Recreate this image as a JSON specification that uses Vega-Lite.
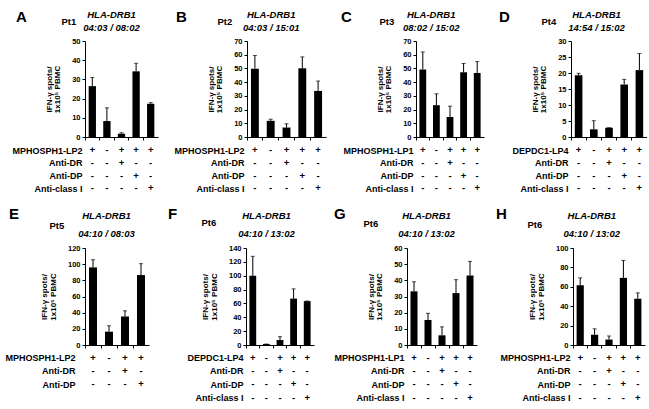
{
  "$schema": "https://vega.github.io/schema/vega-lite/v6.json",
  "background": "white",
  "padding": {"left": 4, "top": 9, "right": 0, "bottom": 0},
  "datasets": {
    "bars": [
      {"p":"A","c":1,"v":26.5,"u":31},{"p":"A","c":2,"v":8.3,"u":15.2},{"p":"A","c":3,"v":1.7,"u":2.2},{"p":"A","c":4,"v":34.2,"u":38.4},{"p":"A","c":5,"v":17.3,"u":17.9},
      {"p":"B","c":1,"v":49.8,"u":59.4},{"p":"B","c":2,"v":11.8,"u":13},{"p":"B","c":3,"v":6.9,"u":9.6},{"p":"B","c":4,"v":50.1,"u":58.4},{"p":"B","c":5,"v":33.6,"u":40.8},
      {"p":"C","c":1,"v":49.2,"u":62},{"p":"C","c":2,"v":23.2,"u":31.5},{"p":"C","c":3,"v":14.6,"u":22.5},{"p":"C","c":4,"v":47.2,"u":53.6},{"p":"C","c":5,"v":46.7,"u":55},
      {"p":"D","c":1,"v":19.3,"u":19.9},{"p":"D","c":2,"v":2.4,"u":5.1},{"p":"D","c":3,"v":2.9,"u":2.9},{"p":"D","c":4,"v":16.4,"u":18},{"p":"D","c":5,"v":20.9,"u":26.1},
      {"p":"E","c":1,"v":96,"u":105.5},{"p":"E","c":2,"v":16.5,"u":23.8},{"p":"E","c":3,"v":35.3,"u":42.3},{"p":"E","c":4,"v":86.5,"u":100.6},
      {"p":"F","c":1,"v":100,"u":128},{"p":"F","c":2,"v":1.4,"u":1.4},{"p":"F","c":3,"v":7.2,"u":12},{"p":"F","c":4,"v":67,"u":81},{"p":"F","c":5,"v":63.3,"u":63.5},
      {"p":"G","c":1,"v":33.2,"u":39.1},{"p":"G","c":2,"v":15.5,"u":19.6},{"p":"G","c":3,"v":6,"u":11.2},{"p":"G","c":4,"v":32.1,"u":40.4},{"p":"G","c":5,"v":43,"u":51.7},
      {"p":"H","c":1,"v":61.6,"u":69.2},{"p":"H","c":2,"v":10.6,"u":16.7},{"p":"H","c":3,"v":5.6,"u":9.3},{"p":"H","c":4,"v":69.2,"u":87.2},{"p":"H","c":5,"v":47.7,"u":53.7}
    ],
    "table": [
      {"p":"A","r":1,"lab":"MPHOSPH1-LP2","c":1,"s":"+"},{"p":"A","r":1,"lab":"MPHOSPH1-LP2","c":2,"s":"-"},{"p":"A","r":1,"lab":"MPHOSPH1-LP2","c":3,"s":"+"},{"p":"A","r":1,"lab":"MPHOSPH1-LP2","c":4,"s":"+"},{"p":"A","r":1,"lab":"MPHOSPH1-LP2","c":5,"s":"+"},
      {"p":"A","r":2,"lab":"Anti-DR","c":1,"s":"-"},{"p":"A","r":2,"lab":"Anti-DR","c":2,"s":"-"},{"p":"A","r":2,"lab":"Anti-DR","c":3,"s":"+"},{"p":"A","r":2,"lab":"Anti-DR","c":4,"s":"-"},{"p":"A","r":2,"lab":"Anti-DR","c":5,"s":"-"},
      {"p":"A","r":3,"lab":"Anti-DP","c":1,"s":"-"},{"p":"A","r":3,"lab":"Anti-DP","c":2,"s":"-"},{"p":"A","r":3,"lab":"Anti-DP","c":3,"s":"-"},{"p":"A","r":3,"lab":"Anti-DP","c":4,"s":"+"},{"p":"A","r":3,"lab":"Anti-DP","c":5,"s":"-"},
      {"p":"A","r":4,"lab":"Anti-class I","c":1,"s":"-"},{"p":"A","r":4,"lab":"Anti-class I","c":2,"s":"-"},{"p":"A","r":4,"lab":"Anti-class I","c":3,"s":"-"},{"p":"A","r":4,"lab":"Anti-class I","c":4,"s":"-"},{"p":"A","r":4,"lab":"Anti-class I","c":5,"s":"+"},
      {"p":"B","r":1,"lab":"MPHOSPH1-LP2","c":1,"s":"+"},{"p":"B","r":1,"lab":"MPHOSPH1-LP2","c":2,"s":"-"},{"p":"B","r":1,"lab":"MPHOSPH1-LP2","c":3,"s":"+"},{"p":"B","r":1,"lab":"MPHOSPH1-LP2","c":4,"s":"+"},{"p":"B","r":1,"lab":"MPHOSPH1-LP2","c":5,"s":"+"},
      {"p":"B","r":2,"lab":"Anti-DR","c":1,"s":"-"},{"p":"B","r":2,"lab":"Anti-DR","c":2,"s":"-"},{"p":"B","r":2,"lab":"Anti-DR","c":3,"s":"+"},{"p":"B","r":2,"lab":"Anti-DR","c":4,"s":"-"},{"p":"B","r":2,"lab":"Anti-DR","c":5,"s":"-"},
      {"p":"B","r":3,"lab":"Anti-DP","c":1,"s":"-"},{"p":"B","r":3,"lab":"Anti-DP","c":2,"s":"-"},{"p":"B","r":3,"lab":"Anti-DP","c":3,"s":"-"},{"p":"B","r":3,"lab":"Anti-DP","c":4,"s":"+"},{"p":"B","r":3,"lab":"Anti-DP","c":5,"s":"-"},
      {"p":"B","r":4,"lab":"Anti-class I","c":1,"s":"-"},{"p":"B","r":4,"lab":"Anti-class I","c":2,"s":"-"},{"p":"B","r":4,"lab":"Anti-class I","c":3,"s":"-"},{"p":"B","r":4,"lab":"Anti-class I","c":4,"s":"-"},{"p":"B","r":4,"lab":"Anti-class I","c":5,"s":"+"},
      {"p":"C","r":1,"lab":"MPHOSPH1-LP1","c":1,"s":"+"},{"p":"C","r":1,"lab":"MPHOSPH1-LP1","c":2,"s":"-"},{"p":"C","r":1,"lab":"MPHOSPH1-LP1","c":3,"s":"+"},{"p":"C","r":1,"lab":"MPHOSPH1-LP1","c":4,"s":"+"},{"p":"C","r":1,"lab":"MPHOSPH1-LP1","c":5,"s":"+"},
      {"p":"C","r":2,"lab":"Anti-DR","c":1,"s":"-"},{"p":"C","r":2,"lab":"Anti-DR","c":2,"s":"-"},{"p":"C","r":2,"lab":"Anti-DR","c":3,"s":"+"},{"p":"C","r":2,"lab":"Anti-DR","c":4,"s":"-"},{"p":"C","r":2,"lab":"Anti-DR","c":5,"s":"-"},
      {"p":"C","r":3,"lab":"Anti-DP","c":1,"s":"-"},{"p":"C","r":3,"lab":"Anti-DP","c":2,"s":"-"},{"p":"C","r":3,"lab":"Anti-DP","c":3,"s":"-"},{"p":"C","r":3,"lab":"Anti-DP","c":4,"s":"+"},{"p":"C","r":3,"lab":"Anti-DP","c":5,"s":"-"},
      {"p":"C","r":4,"lab":"Anti-class I","c":1,"s":"-"},{"p":"C","r":4,"lab":"Anti-class I","c":2,"s":"-"},{"p":"C","r":4,"lab":"Anti-class I","c":3,"s":"-"},{"p":"C","r":4,"lab":"Anti-class I","c":4,"s":"-"},{"p":"C","r":4,"lab":"Anti-class I","c":5,"s":"+"},
      {"p":"D","r":1,"lab":"DEPDC1-LP4","c":1,"s":"+"},{"p":"D","r":1,"lab":"DEPDC1-LP4","c":2,"s":"-"},{"p":"D","r":1,"lab":"DEPDC1-LP4","c":3,"s":"+"},{"p":"D","r":1,"lab":"DEPDC1-LP4","c":4,"s":"+"},{"p":"D","r":1,"lab":"DEPDC1-LP4","c":5,"s":"+"},
      {"p":"D","r":2,"lab":"Anti-DR","c":1,"s":"-"},{"p":"D","r":2,"lab":"Anti-DR","c":2,"s":"-"},{"p":"D","r":2,"lab":"Anti-DR","c":3,"s":"+"},{"p":"D","r":2,"lab":"Anti-DR","c":4,"s":"-"},{"p":"D","r":2,"lab":"Anti-DR","c":5,"s":"-"},
      {"p":"D","r":3,"lab":"Anti-DP","c":1,"s":"-"},{"p":"D","r":3,"lab":"Anti-DP","c":2,"s":"-"},{"p":"D","r":3,"lab":"Anti-DP","c":3,"s":"-"},{"p":"D","r":3,"lab":"Anti-DP","c":4,"s":"+"},{"p":"D","r":3,"lab":"Anti-DP","c":5,"s":"-"},
      {"p":"D","r":4,"lab":"Anti-class I","c":1,"s":"-"},{"p":"D","r":4,"lab":"Anti-class I","c":2,"s":"-"},{"p":"D","r":4,"lab":"Anti-class I","c":3,"s":"-"},{"p":"D","r":4,"lab":"Anti-class I","c":4,"s":"-"},{"p":"D","r":4,"lab":"Anti-class I","c":5,"s":"+"},
      {"p":"E","r":1,"lab":"MPHOSPH1-LP2","c":1,"s":"+"},{"p":"E","r":1,"lab":"MPHOSPH1-LP2","c":2,"s":"-"},{"p":"E","r":1,"lab":"MPHOSPH1-LP2","c":3,"s":"+"},{"p":"E","r":1,"lab":"MPHOSPH1-LP2","c":4,"s":"+"},
      {"p":"E","r":2,"lab":"Anti-DR","c":1,"s":"-"},{"p":"E","r":2,"lab":"Anti-DR","c":2,"s":"-"},{"p":"E","r":2,"lab":"Anti-DR","c":3,"s":"+"},{"p":"E","r":2,"lab":"Anti-DR","c":4,"s":"-"},
      {"p":"E","r":3,"lab":"Anti-DP","c":1,"s":"-"},{"p":"E","r":3,"lab":"Anti-DP","c":2,"s":"-"},{"p":"E","r":3,"lab":"Anti-DP","c":3,"s":"-"},{"p":"E","r":3,"lab":"Anti-DP","c":4,"s":"+"},
      {"p":"F","r":1,"lab":"DEPDC1-LP4","c":1,"s":"+"},{"p":"F","r":1,"lab":"DEPDC1-LP4","c":2,"s":"-"},{"p":"F","r":1,"lab":"DEPDC1-LP4","c":3,"s":"+"},{"p":"F","r":1,"lab":"DEPDC1-LP4","c":4,"s":"+"},{"p":"F","r":1,"lab":"DEPDC1-LP4","c":5,"s":"+"},
      {"p":"F","r":2,"lab":"Anti-DR","c":1,"s":"-"},{"p":"F","r":2,"lab":"Anti-DR","c":2,"s":"-"},{"p":"F","r":2,"lab":"Anti-DR","c":3,"s":"+"},{"p":"F","r":2,"lab":"Anti-DR","c":4,"s":"-"},{"p":"F","r":2,"lab":"Anti-DR","c":5,"s":"-"},
      {"p":"F","r":3,"lab":"Anti-DP","c":1,"s":"-"},{"p":"F","r":3,"lab":"Anti-DP","c":2,"s":"-"},{"p":"F","r":3,"lab":"Anti-DP","c":3,"s":"-"},{"p":"F","r":3,"lab":"Anti-DP","c":4,"s":"+"},{"p":"F","r":3,"lab":"Anti-DP","c":5,"s":"-"},
      {"p":"F","r":4,"lab":"Anti-class I","c":1,"s":"-"},{"p":"F","r":4,"lab":"Anti-class I","c":2,"s":"-"},{"p":"F","r":4,"lab":"Anti-class I","c":3,"s":"-"},{"p":"F","r":4,"lab":"Anti-class I","c":4,"s":"-"},{"p":"F","r":4,"lab":"Anti-class I","c":5,"s":"+"},
      {"p":"G","r":1,"lab":"MPHOSPH1-LP1","c":1,"s":"+"},{"p":"G","r":1,"lab":"MPHOSPH1-LP1","c":2,"s":"-"},{"p":"G","r":1,"lab":"MPHOSPH1-LP1","c":3,"s":"+"},{"p":"G","r":1,"lab":"MPHOSPH1-LP1","c":4,"s":"+"},{"p":"G","r":1,"lab":"MPHOSPH1-LP1","c":5,"s":"+"},
      {"p":"G","r":2,"lab":"Anti-DR","c":1,"s":"-"},{"p":"G","r":2,"lab":"Anti-DR","c":2,"s":"-"},{"p":"G","r":2,"lab":"Anti-DR","c":3,"s":"+"},{"p":"G","r":2,"lab":"Anti-DR","c":4,"s":"-"},{"p":"G","r":2,"lab":"Anti-DR","c":5,"s":"-"},
      {"p":"G","r":3,"lab":"Anti-DP","c":1,"s":"-"},{"p":"G","r":3,"lab":"Anti-DP","c":2,"s":"-"},{"p":"G","r":3,"lab":"Anti-DP","c":3,"s":"-"},{"p":"G","r":3,"lab":"Anti-DP","c":4,"s":"+"},{"p":"G","r":3,"lab":"Anti-DP","c":5,"s":"-"},
      {"p":"G","r":4,"lab":"Anti-class I","c":1,"s":"-"},{"p":"G","r":4,"lab":"Anti-class I","c":2,"s":"-"},{"p":"G","r":4,"lab":"Anti-class I","c":3,"s":"-"},{"p":"G","r":4,"lab":"Anti-class I","c":4,"s":"-"},{"p":"G","r":4,"lab":"Anti-class I","c":5,"s":"+"},
      {"p":"H","r":1,"lab":"MPHOSPH1-LP2","c":1,"s":"+"},{"p":"H","r":1,"lab":"MPHOSPH1-LP2","c":2,"s":"-"},{"p":"H","r":1,"lab":"MPHOSPH1-LP2","c":3,"s":"+"},{"p":"H","r":1,"lab":"MPHOSPH1-LP2","c":4,"s":"+"},{"p":"H","r":1,"lab":"MPHOSPH1-LP2","c":5,"s":"+"},
      {"p":"H","r":2,"lab":"Anti-DR","c":1,"s":"-"},{"p":"H","r":2,"lab":"Anti-DR","c":2,"s":"-"},{"p":"H","r":2,"lab":"Anti-DR","c":3,"s":"+"},{"p":"H","r":2,"lab":"Anti-DR","c":4,"s":"-"},{"p":"H","r":2,"lab":"Anti-DR","c":5,"s":"-"},
      {"p":"H","r":3,"lab":"Anti-DP","c":1,"s":"-"},{"p":"H","r":3,"lab":"Anti-DP","c":2,"s":"-"},{"p":"H","r":3,"lab":"Anti-DP","c":3,"s":"-"},{"p":"H","r":3,"lab":"Anti-DP","c":4,"s":"+"},{"p":"H","r":3,"lab":"Anti-DP","c":5,"s":"-"},
      {"p":"H","r":4,"lab":"Anti-class I","c":1,"s":"-"},{"p":"H","r":4,"lab":"Anti-class I","c":2,"s":"-"},{"p":"H","r":4,"lab":"Anti-class I","c":3,"s":"-"},{"p":"H","r":4,"lab":"Anti-class I","c":4,"s":"-"},{"p":"H","r":4,"lab":"Anti-class I","c":5,"s":"+"}
    ]
  },
  "columns": 1,
  "align": "none",
  "spacing": 11,
  "concat": [
    {
      "columns": 4,
      "spacing": {"row": 3, "column": 15},
      "concat": [
        {"width": 73, "height": 96, "data": {"name": "bars"}, "transform": [{"filter": "datum.p === 'A'"}],
         "title": {"text": "A", "dx": -69, "dy": 20},
         "layer": [
          {"mark": {"type": "bar", "width": {"band": 0.5}}, "encoding": {
            "x": {"field": "c", "type": "ordinal", "scale": {"paddingInner": 0, "paddingOuter": 0}, "axis": {"orient": "bottom", "labels": false, "title": null, "bandPosition": 0}},
            "y": {"field": "v", "type": "quantitative", "scale": {"domain": [0, 50], "nice": false}, "axis": {"values": [0, 10, 20, 30, 40, 50], "title": ["IFN-γ spots/", "1x10⁵ PBMC"], "titlePadding": 10, "titleLineHeight": 8.5}}}},
          {"mark": "rule", "encoding": {
            "x": {"field": "c", "type": "ordinal", "scale": {"paddingInner": 0, "paddingOuter": 0}, "axis": {"orient": "top", "labels": false, "ticks": false, "domain": false, "title": ["HLA-DRB1", "04:03 / 08:02"], "titleFontStyle": "italic", "titleFontSize": 9.5, "titleX": 26, "titleY": -23.8, "titleAlign": "center", "titleBaseline": "alphabetic", "titleLineHeight": 13.2, "titleAngle": 0}},
            "y": {"field": "v", "type": "quantitative", "scale": {"domain": [0, 50], "nice": false}, "axis": null},
            "y2": {"field": "u"}}},
          {"mark": {"type": "tick", "size": 4, "thickness": 1}, "encoding": {
            "x": {"field": "c", "type": "ordinal", "scale": {"paddingInner": 0, "paddingOuter": 0}, "axis": null},
            "y": {"field": "u", "type": "quantitative", "scale": {"domain": [0, 50], "nice": false}, "axis": {"orient": "right", "labels": false, "ticks": false, "domain": false, "title": "Pt1", "titleAngle": 0, "titleFontSize": 9.5, "titleX": -97, "titleY": -19.6, "titleAlign": "left", "titleBaseline": "middle"}}}}
         ],
         "resolve": {"axis": {"x": "independent", "y": "independent"}}},
        {"width": 79, "height": 96, "data": {"name": "bars"}, "transform": [{"filter": "datum.p === 'B'"}],
         "title": {"text": "B", "dx": -71, "dy": 20},
         "layer": [
          {"mark": {"type": "bar", "width": {"band": 0.5}}, "encoding": {
            "x": {"field": "c", "type": "ordinal", "scale": {"paddingInner": 0, "paddingOuter": 0}, "axis": {"orient": "bottom", "labels": false, "title": null, "bandPosition": 0}},
            "y": {"field": "v", "type": "quantitative", "scale": {"domain": [0, 70], "nice": false}, "axis": {"values": [0, 10, 20, 30, 40, 50, 60, 70], "title": ["IFN-γ spots/", "1x10⁵ PBMC"], "titlePadding": 10, "titleLineHeight": 8.5}}}},
          {"mark": "rule", "encoding": {
            "x": {"field": "c", "type": "ordinal", "scale": {"paddingInner": 0, "paddingOuter": 0}, "axis": {"orient": "top", "labels": false, "ticks": false, "domain": false, "title": ["HLA-DRB1", "04:03 / 15:01"], "titleFontStyle": "italic", "titleFontSize": 9.5, "titleX": 23.7, "titleY": -23.8, "titleAlign": "center", "titleBaseline": "alphabetic", "titleLineHeight": 13.2, "titleAngle": 0}},
            "y": {"field": "v", "type": "quantitative", "scale": {"domain": [0, 70], "nice": false}, "axis": null},
            "y2": {"field": "u"}}},
          {"mark": {"type": "tick", "size": 4, "thickness": 1}, "encoding": {
            "x": {"field": "c", "type": "ordinal", "scale": {"paddingInner": 0, "paddingOuter": 0}, "axis": null},
            "y": {"field": "u", "type": "quantitative", "scale": {"domain": [0, 70], "nice": false}, "axis": {"orient": "right", "labels": false, "ticks": false, "domain": false, "title": "Pt2", "titleAngle": 0, "titleFontSize": 9.5, "titleX": -109, "titleY": -19.6, "titleAlign": "left", "titleBaseline": "middle"}}}}
         ],
         "resolve": {"axis": {"x": "independent", "y": "independent"}}},
        {"width": 68, "height": 96, "data": {"name": "bars"}, "transform": [{"filter": "datum.p === 'C'"}],
         "title": {"text": "C", "dx": -75, "dy": 20},
         "layer": [
          {"mark": {"type": "bar", "width": {"band": 0.5}}, "encoding": {
            "x": {"field": "c", "type": "ordinal", "scale": {"paddingInner": 0, "paddingOuter": 0}, "axis": {"orient": "bottom", "labels": false, "title": null, "bandPosition": 0}},
            "y": {"field": "v", "type": "quantitative", "scale": {"domain": [0, 70], "nice": false}, "axis": {"values": [0, 10, 20, 30, 40, 50, 60, 70], "title": ["IFN-γ spots/", "1x10⁵ PBMC"], "titlePadding": 10, "titleLineHeight": 8.5}}}},
          {"mark": "rule", "encoding": {
            "x": {"field": "c", "type": "ordinal", "scale": {"paddingInner": 0, "paddingOuter": 0}, "axis": {"orient": "top", "labels": false, "ticks": false, "domain": false, "title": ["HLA-DRB1", "08:02 / 15:02"], "titleFontStyle": "italic", "titleFontSize": 9.5, "titleX": 14.7, "titleY": -23.8, "titleAlign": "center", "titleBaseline": "alphabetic", "titleLineHeight": 13.2, "titleAngle": 0}},
            "y": {"field": "v", "type": "quantitative", "scale": {"domain": [0, 70], "nice": false}, "axis": null},
            "y2": {"field": "u"}}},
          {"mark": {"type": "tick", "size": 4, "thickness": 1}, "encoding": {
            "x": {"field": "c", "type": "ordinal", "scale": {"paddingInner": 0, "paddingOuter": 0}, "axis": null},
            "y": {"field": "u", "type": "quantitative", "scale": {"domain": [0, 70], "nice": false}, "axis": {"orient": "right", "labels": false, "ticks": false, "domain": false, "title": "Pt3", "titleAngle": 0, "titleFontSize": 9.5, "titleX": -105, "titleY": -19.6, "titleAlign": "left", "titleBaseline": "middle"}}}}
         ],
         "resolve": {"axis": {"x": "independent", "y": "independent"}}},
        {"width": 76, "height": 96, "data": {"name": "bars"}, "transform": [{"filter": "datum.p === 'D'"}],
         "title": {"text": "D", "dx": -72, "dy": 20},
         "layer": [
          {"mark": {"type": "bar", "width": {"band": 0.5}}, "encoding": {
            "x": {"field": "c", "type": "ordinal", "scale": {"paddingInner": 0, "paddingOuter": 0}, "axis": {"orient": "bottom", "labels": false, "title": null, "bandPosition": 0}},
            "y": {"field": "v", "type": "quantitative", "scale": {"domain": [0, 30], "nice": false}, "axis": {"values": [0, 5, 10, 15, 20, 25, 30], "title": ["IFN-γ spots/", "1x10⁵ PBMC"], "titlePadding": 10, "titleLineHeight": 8.5}}}},
          {"mark": "rule", "encoding": {
            "x": {"field": "c", "type": "ordinal", "scale": {"paddingInner": 0, "paddingOuter": 0}, "axis": {"orient": "top", "labels": false, "ticks": false, "domain": false, "title": ["HLA-DRB1", "14:54 / 15:02"], "titleFontStyle": "italic", "titleFontSize": 9.5, "titleX": 25, "titleY": -23.8, "titleAlign": "center", "titleBaseline": "alphabetic", "titleLineHeight": 13.2, "titleAngle": 0}},
            "y": {"field": "v", "type": "quantitative", "scale": {"domain": [0, 30], "nice": false}, "axis": null},
            "y2": {"field": "u"}}},
          {"mark": {"type": "tick", "size": 4, "thickness": 1}, "encoding": {
            "x": {"field": "c", "type": "ordinal", "scale": {"paddingInner": 0, "paddingOuter": 0}, "axis": null},
            "y": {"field": "u", "type": "quantitative", "scale": {"domain": [0, 30], "nice": false}, "axis": {"orient": "right", "labels": false, "ticks": false, "domain": false, "title": "Pt4", "titleAngle": 0, "titleFontSize": 9.5, "titleX": -106, "titleY": -19.6, "titleAlign": "left", "titleBaseline": "middle"}}}}
         ],
         "resolve": {"axis": {"x": "independent", "y": "independent"}}},
        {"width": 73, "height": {"step": 12.6}, "data": {"name": "table"}, "transform": [{"filter": "datum.p === 'A'"}],
         "mark": {"type": "text", "fontWeight": "bold", "fontSize": 9.5},
         "encoding": {"x": {"field": "c", "type": "ordinal", "axis": null},
           "y": {"field": "lab", "type": "nominal", "sort": {"field": "r", "op": "min"}, "axis": {"title": null, "domain": false, "ticks": false, "labelFontSize": 9, "labelPadding": 3}},
           "text": {"field": "s"}}},
        {"width": 79, "height": {"step": 12.6}, "data": {"name": "table"}, "transform": [{"filter": "datum.p === 'B'"}],
         "mark": {"type": "text", "fontWeight": "bold", "fontSize": 9.5},
         "encoding": {"x": {"field": "c", "type": "ordinal", "axis": null},
           "y": {"field": "lab", "type": "nominal", "sort": {"field": "r", "op": "min"}, "axis": {"title": null, "domain": false, "ticks": false, "labelFontSize": 9, "labelPadding": 3}},
           "text": {"field": "s"}}},
        {"width": 68, "height": {"step": 12.6}, "data": {"name": "table"}, "transform": [{"filter": "datum.p === 'C'"}],
         "mark": {"type": "text", "fontWeight": "bold", "fontSize": 9.5},
         "encoding": {"x": {"field": "c", "type": "ordinal", "axis": null},
           "y": {"field": "lab", "type": "nominal", "sort": {"field": "r", "op": "min"}, "axis": {"title": null, "domain": false, "ticks": false, "labelFontSize": 9, "labelPadding": 3}},
           "text": {"field": "s"}}},
        {"width": 76, "height": {"step": 12.6}, "data": {"name": "table"}, "transform": [{"filter": "datum.p === 'D'"}],
         "mark": {"type": "text", "fontWeight": "bold", "fontSize": 9.5},
         "encoding": {"x": {"field": "c", "type": "ordinal", "axis": null},
           "y": {"field": "lab", "type": "nominal", "sort": {"field": "r", "op": "min"}, "axis": {"title": null, "domain": false, "ticks": false, "labelFontSize": 9, "labelPadding": 3}},
           "text": {"field": "s"}}}
      ]
    },
    {
      "columns": 4,
      "spacing": {"row": 2, "column": 19},
      "concat": [
        {"width": 64, "height": 97, "data": {"name": "bars"}, "transform": [{"filter": "datum.p === 'E'"}],
         "title": {"text": "E", "dx": -76, "dy": 15},
         "layer": [
          {"mark": {"type": "bar", "width": {"band": 0.5}}, "encoding": {
            "x": {"field": "c", "type": "ordinal", "scale": {"paddingInner": 0, "paddingOuter": 0}, "axis": {"orient": "bottom", "labels": false, "title": null, "bandPosition": 0}},
            "y": {"field": "v", "type": "quantitative", "scale": {"domain": [0, 120], "nice": false}, "axis": {"values": [0, 20, 40, 60, 80, 100, 120], "title": ["IFN-γ spots/", "1x10⁵ PBMC"], "titlePadding": 10, "titleLineHeight": 8.5}}}},
          {"mark": "rule", "encoding": {
            "x": {"field": "c", "type": "ordinal", "scale": {"paddingInner": 0, "paddingOuter": 0}, "axis": {"orient": "top", "labels": false, "ticks": false, "domain": false, "title": ["HLA-DRB1", "04:10 / 08:03"], "titleFontStyle": "italic", "titleFontSize": 9.5, "titleX": 21, "titleY": -29.2, "titleAlign": "center", "titleBaseline": "alphabetic", "titleLineHeight": 18, "titleAngle": 0}},
            "y": {"field": "v", "type": "quantitative", "scale": {"domain": [0, 120], "nice": false}, "axis": null},
            "y2": {"field": "u"}}},
          {"mark": {"type": "tick", "size": 4, "thickness": 1}, "encoding": {
            "x": {"field": "c", "type": "ordinal", "scale": {"paddingInner": 0, "paddingOuter": 0}, "axis": null},
            "y": {"field": "u", "type": "quantitative", "scale": {"domain": [0, 120], "nice": false}, "axis": {"orient": "right", "labels": false, "ticks": false, "domain": false, "title": "Pt5", "titleAngle": 0, "titleFontSize": 9.5, "titleX": -100, "titleY": -22.7, "titleAlign": "left", "titleBaseline": "middle"}}}}
         ],
         "resolve": {"axis": {"x": "independent", "y": "independent"}}},
        {"width": 68, "height": 97, "data": {"name": "bars"}, "transform": [{"filter": "datum.p === 'F'"}],
         "title": {"text": "F", "dx": -78, "dy": 15},
         "layer": [
          {"mark": {"type": "bar", "width": {"band": 0.5}}, "encoding": {
            "x": {"field": "c", "type": "ordinal", "scale": {"paddingInner": 0, "paddingOuter": 0}, "axis": {"orient": "bottom", "labels": false, "title": null, "bandPosition": 0}},
            "y": {"field": "v", "type": "quantitative", "scale": {"domain": [0, 140], "nice": false}, "axis": {"values": [0, 20, 40, 60, 80, 100, 120, 140], "title": ["IFN-γ spots/", "1x10⁵ PBMC"], "titlePadding": 10, "titleLineHeight": 8.5}}}},
          {"mark": "rule", "encoding": {
            "x": {"field": "c", "type": "ordinal", "scale": {"paddingInner": 0, "paddingOuter": 0}, "axis": {"orient": "top", "labels": false, "ticks": false, "domain": false, "title": ["HLA-DRB1", "04:10 / 13:02"], "titleFontStyle": "italic", "titleFontSize": 9.5, "titleX": 20, "titleY": -29.2, "titleAlign": "center", "titleBaseline": "alphabetic", "titleLineHeight": 18, "titleAngle": 0}},
            "y": {"field": "v", "type": "quantitative", "scale": {"domain": [0, 140], "nice": false}, "axis": null},
            "y2": {"field": "u"}}},
          {"mark": {"type": "tick", "size": 4, "thickness": 1}, "encoding": {
            "x": {"field": "c", "type": "ordinal", "scale": {"paddingInner": 0, "paddingOuter": 0}, "axis": null},
            "y": {"field": "u", "type": "quantitative", "scale": {"domain": [0, 140], "nice": false}, "axis": {"orient": "right", "labels": false, "ticks": false, "domain": false, "title": "Pt6", "titleAngle": 0, "titleFontSize": 9.5, "titleX": -113, "titleY": -25.7, "titleAlign": "left", "titleBaseline": "middle"}}}}
         ],
         "resolve": {"axis": {"x": "independent", "y": "independent"}}},
        {"width": 70, "height": 97, "data": {"name": "bars"}, "transform": [{"filter": "datum.p === 'G'"}],
         "title": {"text": "G", "dx": -73, "dy": 15},
         "layer": [
          {"mark": {"type": "bar", "width": {"band": 0.5}}, "encoding": {
            "x": {"field": "c", "type": "ordinal", "scale": {"paddingInner": 0, "paddingOuter": 0}, "axis": {"orient": "bottom", "labels": false, "title": null, "bandPosition": 0}},
            "y": {"field": "v", "type": "quantitative", "scale": {"domain": [0, 60], "nice": false}, "axis": {"values": [0, 10, 20, 30, 40, 50, 60], "title": ["IFN-γ spots/", "1x10⁵ PBMC"], "titlePadding": 10, "titleLineHeight": 8.5}}}},
          {"mark": "rule", "encoding": {
            "x": {"field": "c", "type": "ordinal", "scale": {"paddingInner": 0, "paddingOuter": 0}, "axis": {"orient": "top", "labels": false, "ticks": false, "domain": false, "title": ["HLA-DRB1", "04:10 / 13:02"], "titleFontStyle": "italic", "titleFontSize": 9.5, "titleX": 19, "titleY": -29.2, "titleAlign": "center", "titleBaseline": "alphabetic", "titleLineHeight": 18, "titleAngle": 0}},
            "y": {"field": "v", "type": "quantitative", "scale": {"domain": [0, 60], "nice": false}, "axis": null},
            "y2": {"field": "u"}}},
          {"mark": {"type": "tick", "size": 4, "thickness": 1}, "encoding": {
            "x": {"field": "c", "type": "ordinal", "scale": {"paddingInner": 0, "paddingOuter": 0}, "axis": null},
            "y": {"field": "u", "type": "quantitative", "scale": {"domain": [0, 60], "nice": false}, "axis": {"orient": "right", "labels": false, "ticks": false, "domain": false, "title": "Pt6", "titleAngle": 0, "titleFontSize": 9.5, "titleX": -114, "titleY": -25, "titleAlign": "left", "titleBaseline": "middle"}}}}
         ],
         "resolve": {"axis": {"x": "independent", "y": "independent"}}},
        {"width": 72, "height": 97, "data": {"name": "bars"}, "transform": [{"filter": "datum.p === 'H'"}],
         "title": {"text": "H", "dx": -77, "dy": 15},
         "layer": [
          {"mark": {"type": "bar", "width": {"band": 0.5}}, "encoding": {
            "x": {"field": "c", "type": "ordinal", "scale": {"paddingInner": 0, "paddingOuter": 0}, "axis": {"orient": "bottom", "labels": false, "title": null, "bandPosition": 0}},
            "y": {"field": "v", "type": "quantitative", "scale": {"domain": [0, 100], "nice": false}, "axis": {"values": [0, 20, 40, 60, 80, 100], "title": ["IFN-γ spots/", "1x10⁵ PBMC"], "titlePadding": 10, "titleLineHeight": 8.5}}}},
          {"mark": "rule", "encoding": {
            "x": {"field": "c", "type": "ordinal", "scale": {"paddingInner": 0, "paddingOuter": 0}, "axis": {"orient": "top", "labels": false, "ticks": false, "domain": false, "title": ["HLA-DRB1", "04:10 / 13:02"], "titleFontStyle": "italic", "titleFontSize": 9.5, "titleX": 18.3, "titleY": -29.2, "titleAlign": "center", "titleBaseline": "alphabetic", "titleLineHeight": 18, "titleAngle": 0}},
            "y": {"field": "v", "type": "quantitative", "scale": {"domain": [0, 100], "nice": false}, "axis": null},
            "y2": {"field": "u"}}},
          {"mark": {"type": "tick", "size": 4, "thickness": 1}, "encoding": {
            "x": {"field": "c", "type": "ordinal", "scale": {"paddingInner": 0, "paddingOuter": 0}, "axis": null},
            "y": {"field": "u", "type": "quantitative", "scale": {"domain": [0, 100], "nice": false}, "axis": {"orient": "right", "labels": false, "ticks": false, "domain": false, "title": "Pt6", "titleAngle": 0, "titleFontSize": 9.5, "titleX": -118, "titleY": -23.7, "titleAlign": "left", "titleBaseline": "middle"}}}}
         ],
         "resolve": {"axis": {"x": "independent", "y": "independent"}}},
        {"width": 64, "height": {"step": 13.3}, "data": {"name": "table"}, "transform": [{"filter": "datum.p === 'E'"}],
         "mark": {"type": "text", "fontWeight": "bold", "fontSize": 9.5},
         "encoding": {"x": {"field": "c", "type": "ordinal", "axis": null},
           "y": {"field": "lab", "type": "nominal", "sort": {"field": "r", "op": "min"}, "axis": {"title": null, "domain": false, "ticks": false, "labelFontSize": 9, "labelPadding": 10}},
           "text": {"field": "s"}}},
        {"width": 68, "height": {"step": 13.3}, "data": {"name": "table"}, "transform": [{"filter": "datum.p === 'F'"}],
         "mark": {"type": "text", "fontWeight": "bold", "fontSize": 9.5},
         "encoding": {"x": {"field": "c", "type": "ordinal", "axis": null},
           "y": {"field": "lab", "type": "nominal", "sort": {"field": "r", "op": "min"}, "axis": {"title": null, "domain": false, "ticks": false, "labelFontSize": 9, "labelPadding": 3}},
           "text": {"field": "s"}}},
        {"width": 70, "height": {"step": 13.3}, "data": {"name": "table"}, "transform": [{"filter": "datum.p === 'G'"}],
         "mark": {"type": "text", "fontWeight": "bold", "fontSize": 9.5},
         "encoding": {"x": {"field": "c", "type": "ordinal", "axis": null},
           "y": {"field": "lab", "type": "nominal", "sort": {"field": "r", "op": "min"}, "axis": {"title": null, "domain": false, "ticks": false, "labelFontSize": 9, "labelPadding": 3}},
           "text": {"field": "s"}}},
        {"width": 72, "height": {"step": 13.3}, "data": {"name": "table"}, "transform": [{"filter": "datum.p === 'H'"}],
         "mark": {"type": "text", "fontWeight": "bold", "fontSize": 9.5},
         "encoding": {"x": {"field": "c", "type": "ordinal", "axis": null},
           "y": {"field": "lab", "type": "nominal", "sort": {"field": "r", "op": "min"}, "axis": {"title": null, "domain": false, "ticks": false, "labelFontSize": 9, "labelPadding": 3}},
           "text": {"field": "s"}}}
      ]
    }
  ],
  "config": {
    "font": "Liberation Sans",
    "view": {"stroke": null},
    "axis": {"grid": false, "domainColor": "#000", "tickColor": "#000", "labelColor": "#000", "titleColor": "#000", "labelFontWeight": "bold", "titleFontWeight": "bold", "labelFontSize": 7.5, "titleFontSize": 8, "tickSize": 3, "minExtent": 0, "labelPadding": 2},
    "title": {"color": "#000", "fontSize": 15, "fontWeight": "bold", "anchor": "start", "frame": "group", "offset": 0},
    "bar": {"color": "#000"},
    "rule": {"color": "#000"},
    "tick": {"color": "#000"},
    "text": {"color": "#000"}
  }
}
